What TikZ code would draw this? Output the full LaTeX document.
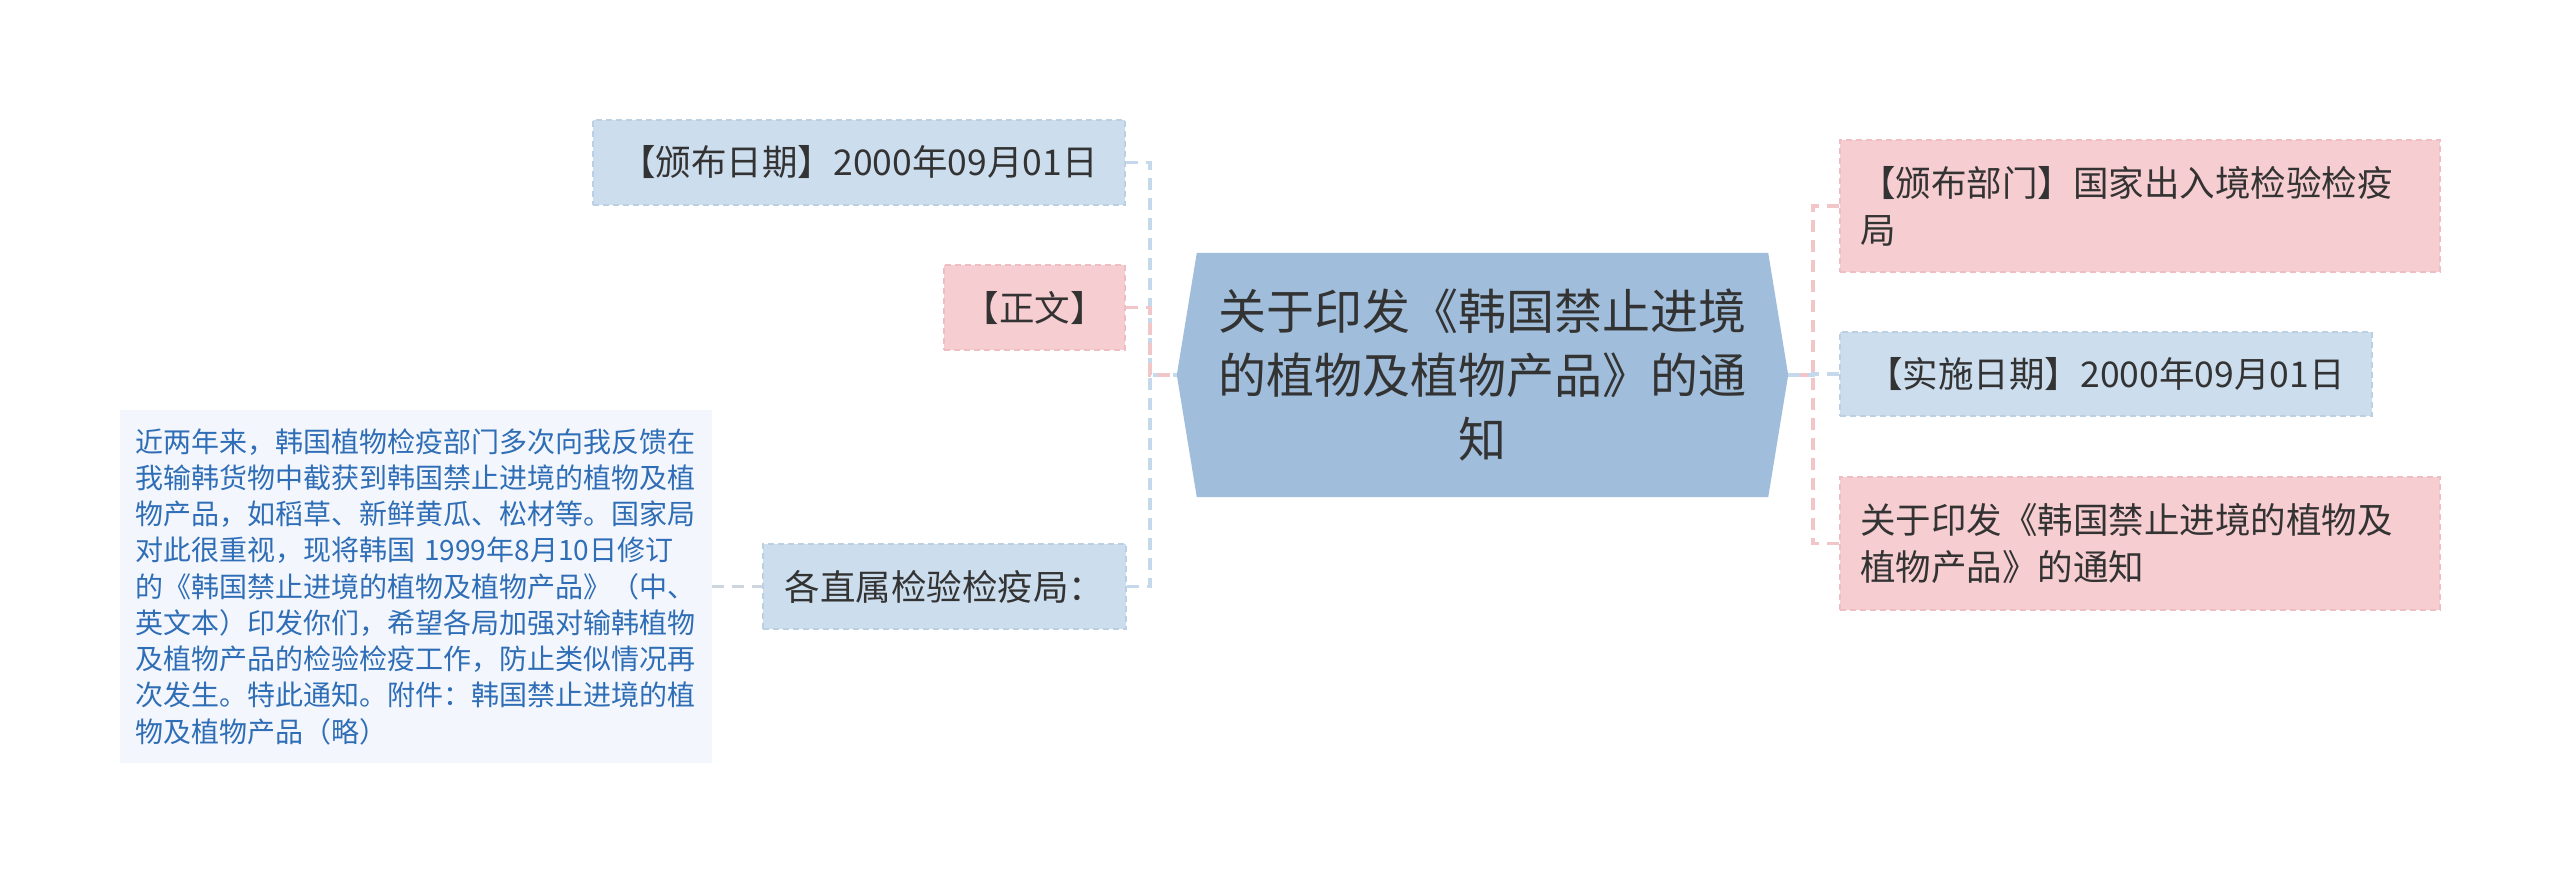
\documentclass[tikz,border=0pt]{standalone}
\usepackage{fontspec}
\newfontfamily\cjk{Noto Sans CJK SC}
\usetikzlibrary{backgrounds}
\definecolor{bluefill}{HTML}{CCDDEE}
\definecolor{blueborder}{HTML}{BCD0E4}
\definecolor{pinkfill}{HTML}{F6CDD0}
\definecolor{pinkborder}{HTML}{EEBEC2}
\definecolor{centerfill}{HTML}{A0BEDB}
\definecolor{textdark}{HTML}{333333}
\definecolor{connblue}{HTML}{C5D8EC}
\definecolor{connpink}{HTML}{F2C5C9}
\definecolor{conngray}{HTML}{CDD5DE}
\definecolor{detailfill}{HTML}{F3F7FD}
\definecolor{detailtext}{HTML}{2F6EB6}
\begin{document}
\begin{tikzpicture}[x=1pt,y=-1pt,
  box/.style={rectangle, draw, dash pattern=on 6pt off 4pt, line width=1.5pt, inner sep=0pt,
    font={\cjk\fontsize{35.5}{47}\selectfont}, text=textdark},
  bluebox/.style={box, fill=bluefill, draw=blueborder},
  pinkbox/.style={box, fill=pinkfill, draw=pinkborder},
  conn/.style={dash pattern=on 12pt off 8pt, line width=3.5pt},
  centerbox/.style={rectangle, inner sep=0pt, align=center, text=textdark,
    font={\cjk\fontsize{48}{64}\selectfont}},
  detailbox/.style={rectangle, fill=detailfill, inner xsep=15pt, inner ysep=0pt, align=left,
    text=detailtext, font={\cjk\fontsize{28}{36.25}\selectfont}}
]
\useasboundingbox (0,0) rectangle (2560,884);
\begin{scope}[on background layer]
\fill[white] (0,0) rectangle (2560,884);
\end{scope}

% central topic
\node[centerbox, minimum width=571pt, minimum height=244pt] (c) at (1482.5,375)
  {关于印发《韩国禁止进境\\的植物及植物产品》的通\\知};
\coordinate (cL) at ([xshift=-20pt]c.west);
\coordinate (cR) at ([xshift=20pt]c.east);
\coordinate (spineL) at (1150,375);
\coordinate (spineR) at (1813,375);

% left children
\node[bluebox, minimum width=532pt, minimum height=85pt] (d1) at (859,162.5)
  {【颁布日期】2000年09月01日};
\node[pinkbox, minimum width=181pt, minimum height=85pt] (d2) at (1034.5,307.5)
  {【正文】};
\node[bluebox, minimum width=363pt, minimum height=85pt] (d3) at (944.5,586.5)
  {各直属检验检疫局：};
\node[detailbox, text width=562pt, minimum height=353pt] (det) at (416,586.5)
  {近两年来，韩国植物检疫部门多次向我反馈在\\
   我输韩货物中截获到韩国禁止进境的植物及植\\
   物产品，如稻草、新鲜黄瓜、松材等。国家局\\
   对此很重视，现将韩国 1999年8月10日修订\\
   的《韩国禁止进境的植物及植物产品》（中、\\
   英文本）印发你们，希望各局加强对输韩植物\\
   及植物产品的检验检疫工作，防止类似情况再\\
   次发生。特此通知。附件：韩国禁止进境的植\\
   物及植物产品（略）};

% right children
\node[pinkbox, text width=560pt, inner xsep=20pt, align=left, minimum height=132pt] (r1) at (2140,206)
  {【颁布部门】国家出入境检验检疫\\局};
\node[bluebox, minimum width=532pt, minimum height=84pt] (r2) at (2106,374)
  {【实施日期】2000年09月01日};
\node[pinkbox, text width=560pt, inner xsep=20pt, align=left, minimum height=133pt] (r3) at (2140,543.5)
  {关于印发《韩国禁止进境的植物及\\植物产品》的通知};

% hexagon and connectors (behind nodes)
\begin{scope}[on background layer]
\fill[centerfill] (c.north west) -- (c.north east) -- (cR) -- (c.south east)
  -- (c.south west) -- (cL) -- cycle;
\draw[conn, connblue] (d1.east) -- (d1.east -| spineL) |- (cL);
\draw[conn, connblue] (d3.east) -- (d3.east -| spineL) |- (cL);
\draw[conn, connpink] (d2.east) -- (d2.east -| spineL) |- (cL);
\draw[conn, connpink] (r1.west) -- (r1.west -| spineR) |- (cR);
\draw[conn, connpink] (r3.west) -- (r3.west -| spineR) |- (cR);
\draw[conn, connblue] (r2.west) -- (r2.west -| spineR) |- (cR);
\draw[conn, conngray] (det.east) -- (d3.west);
\end{scope}
\end{tikzpicture}
\end{document}
